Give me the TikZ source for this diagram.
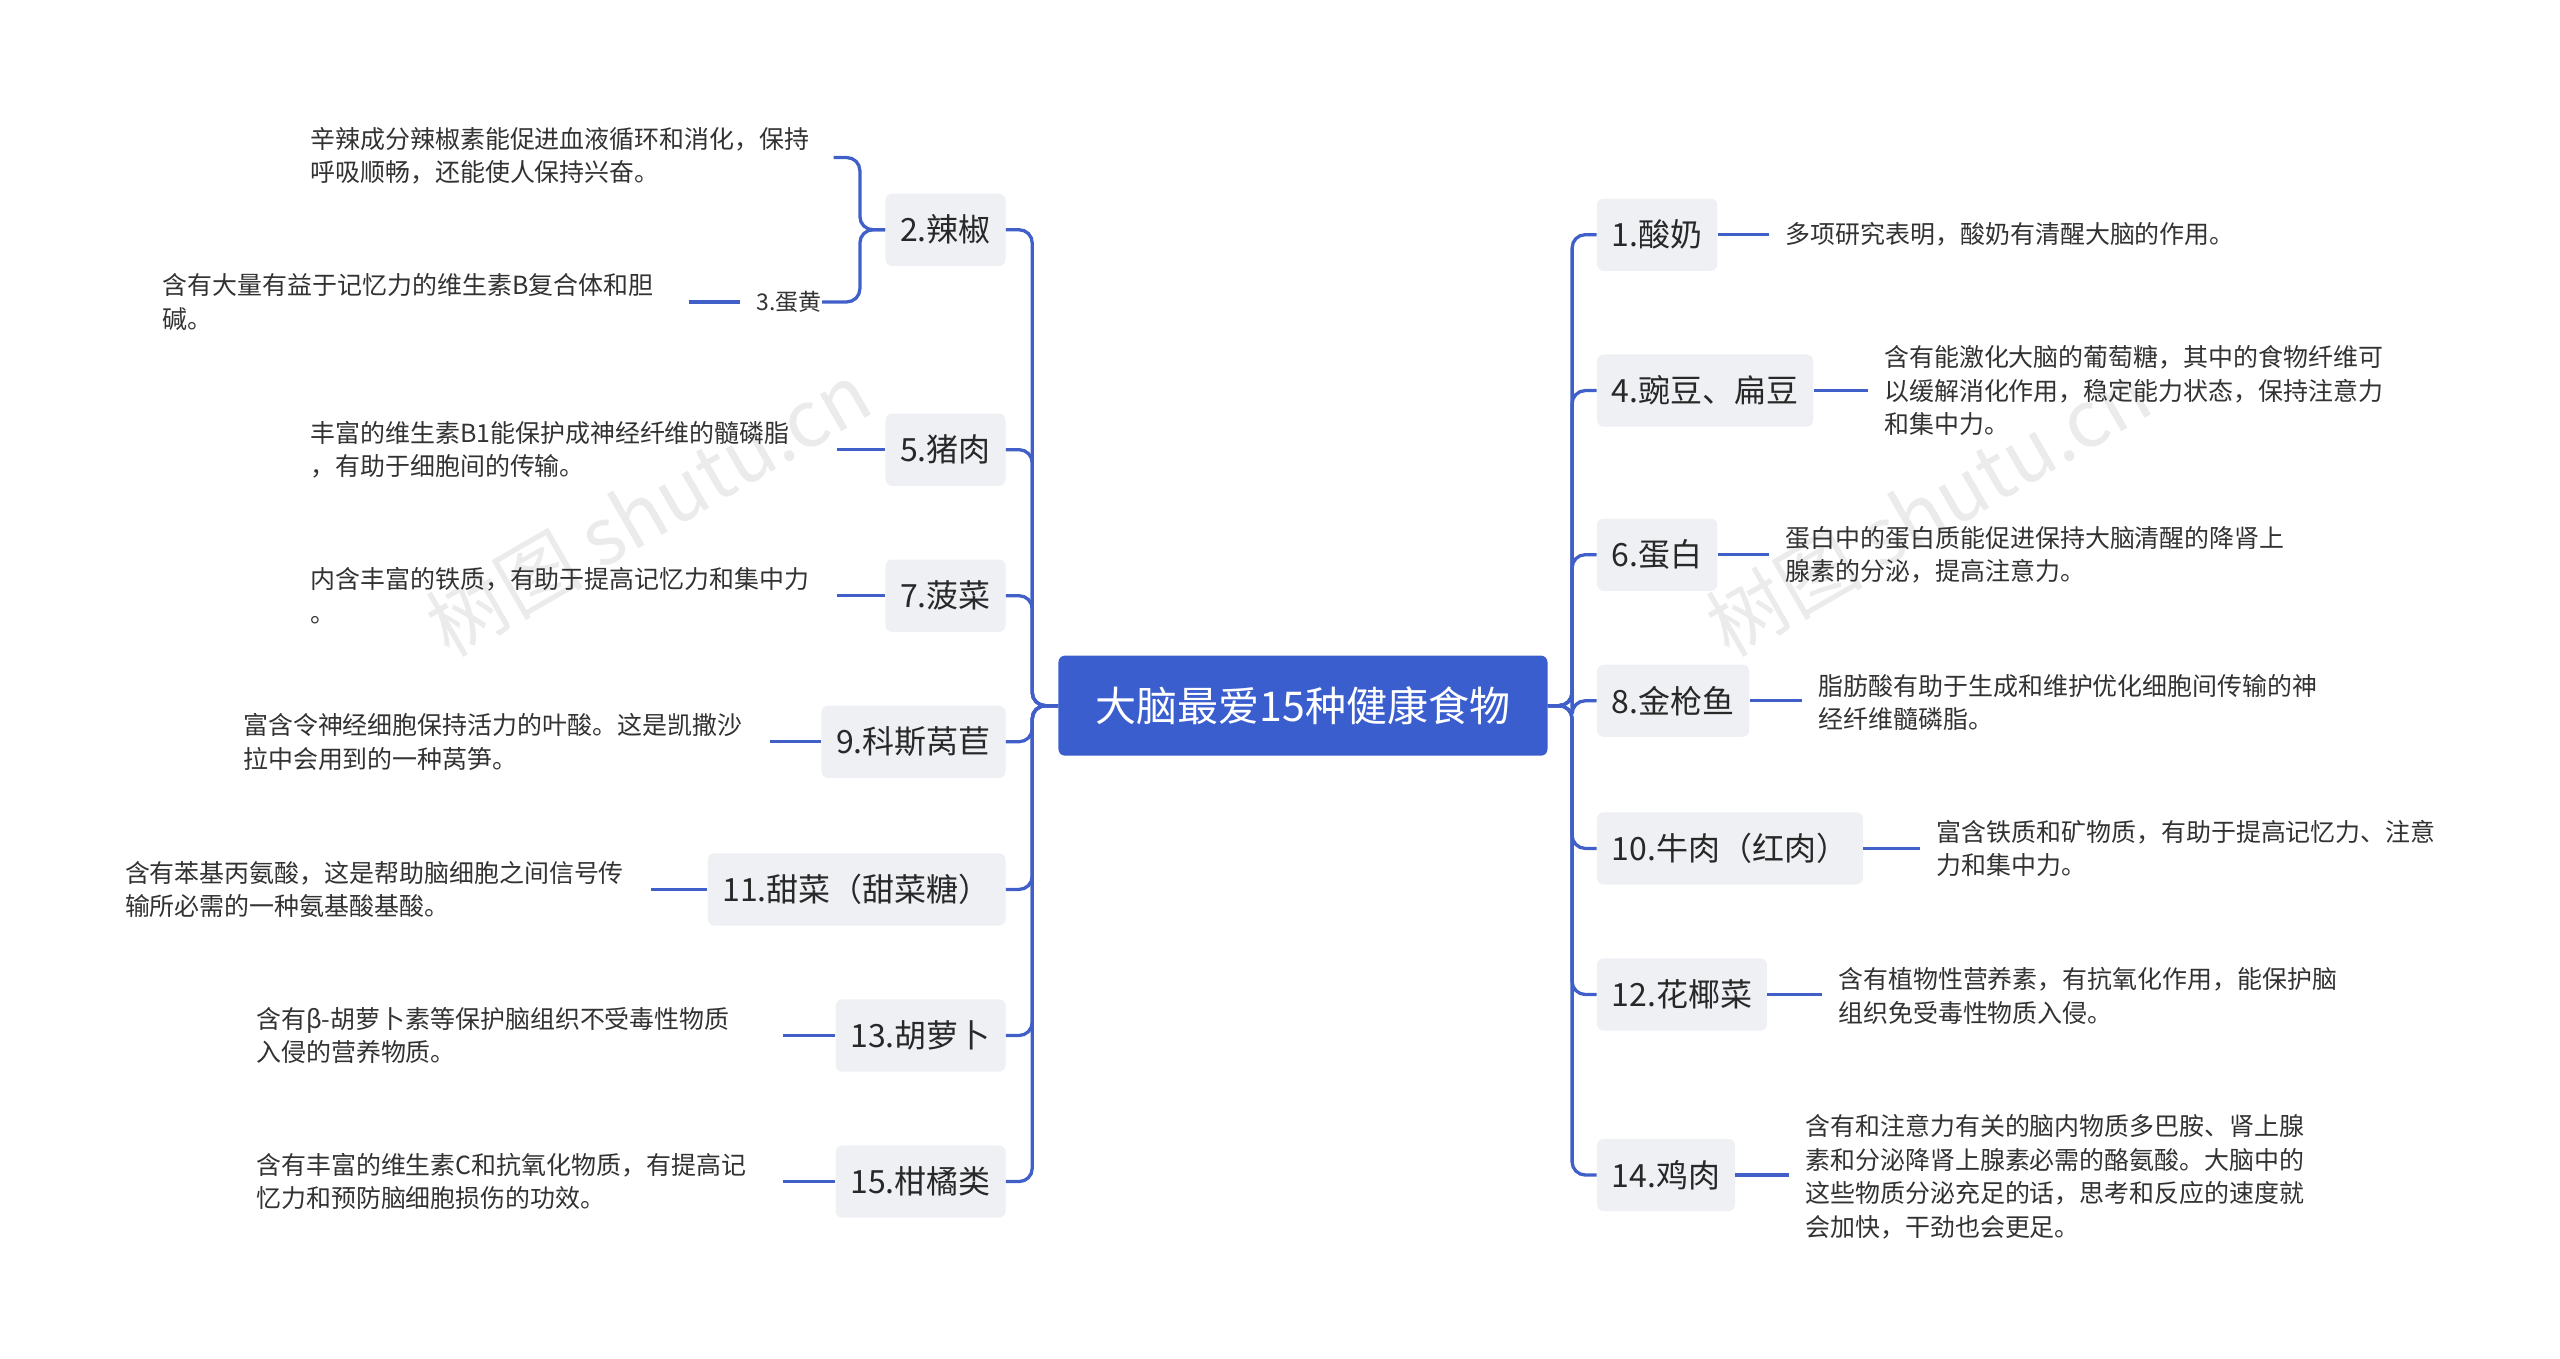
\documentclass[tikz,border=0pt]{standalone}
\usepackage{fontspec}
\setmainfont{Noto Sans CJK SC}
\begin{document}
\begin{tikzpicture}[x=1pt,y=-1pt,
  ln/.style={line width=2pt, color={rgb,255:red,64;green,95;blue,200}},
  br/.style={fill={rgb,255:red,238;green,240;blue,244}, rounded corners=4pt, minimum height=44pt, inner xsep=9pt, font=\fontsize{19.5}{22}\selectfont, text={rgb,255:red,40;green,40;blue,40}},
  lf/.style={align=left, anchor=west, inner sep=0pt, font=\fontsize{15.2}{20.5}\selectfont, text={rgb,255:red,50;green,50;blue,50}},
  rc/.style={ln, rounded corners=8pt}]
\useasboundingbox (0,0) rectangle (1560,828);
\node[rotate=30, text=black!8, font=\fontsize{48}{48}\selectfont] (w1) at (395,310) {树图 shutu.cn};
\node[rotate=30, text=black!8, font=\fontsize{48}{48}\selectfont] (w2) at (1175,310) {树图 shutu.cn};
\node[fill={rgb,255:red,59;green,94;blue,206}, rounded corners=4pt, minimum width=298pt, minimum height=61pt, text=white, font=\fontsize{25}{28}\selectfont] (root) at (794,430) {大脑最爱15种健康食物};
% left branches
\node[br, anchor=east] (n2) at (613,140) {2.辣椒};
\node[br, anchor=east] (n5) at (613,274) {5.猪肉};
\node[br, anchor=east] (n7) at (613,363) {7.菠菜};
\node[br, anchor=east] (n9) at (613,452) {9.科斯莴苣};
\node[br, anchor=east] (n11) at (613,542) {11.甜菜（甜菜糖）};
\node[br, anchor=east] (n13) at (613,631) {13.胡萝卜};
\node[br, anchor=east] (n15) at (613,720) {15.柑橘类};
\foreach \n in {n2,n5,n7,n9,n11,n13,n15}{\draw[rc] (root.west) -- (629,430) |- (\n.east);}
% right branches
\node[br, anchor=west] (n1) at (973,143) {1.酸奶};
\node[br, anchor=west] (n4) at (973,238) {4.豌豆、扁豆};
\node[br, anchor=west] (n6) at (973,338) {6.蛋白};
\node[br, anchor=west] (n8) at (973,427) {8.金枪鱼};
\node[br, anchor=west] (n10) at (973,517) {10.牛肉（红肉）};
\node[br, anchor=west] (n12) at (973,606) {12.花椰菜};
\node[br, anchor=west] (n14) at (973,716) {14.鸡肉};
\foreach \n in {n1,n4,n6,n8,n10,n12,n14}{\draw[rc] (root.east) -- (958,430) |- (\n.west);}
% left leaves
\node[lf] (t2a) at (189,95) {辛辣成分辣椒素能促进血液循环和消化，保持\\呼吸顺畅，还能使人保持兴奋。};
\node[lf, font=\fontsize{14}{16}\selectfont, anchor=east] (t3) at (501,184) {3.蛋黄};
\node[lf] (t3a) at (99,184) {含有大量有益于记忆力的维生素B复合体和胆\\碱。};
\draw[rc] (n2.west) -- (524,140) |- (508,96);
\draw[rc] (n2.west) -- (524,140) |- (t3.east);
\draw[ln] (t3.west) ++(-10,0) -- (420,184);
\node[lf] (t5) at (189,274) {丰富的维生素B1能保护成神经纤维的髓磷脂\\，有助于细胞间的传输。};
\draw[ln] (n5.west) -- (510,274);
\node[lf] (t7) at (189,363) {内含丰富的铁质，有助于提高记忆力和集中力\\。};
\draw[ln] (n7.west) -- (510,363);
\node[lf] (t9) at (148,452) {富含令神经细胞保持活力的叶酸。这是凯撒沙\\拉中会用到的一种莴笋。};
\draw[ln] (n9.west) -- (469,452);
\node[lf] (t11) at (76,542) {含有苯基丙氨酸，这是帮助脑细胞之间信号传\\输所必需的一种氨基酸基酸。};
\draw[ln] (n11.west) -- (397,542);
\node[lf] (t13) at (156,631) {含有β-胡萝卜素等保护脑组织不受毒性物质\\入侵的营养物质。};
\draw[ln] (n13.west) -- (477,631);
\node[lf] (t15) at (156,720) {含有丰富的维生素C和抗氧化物质，有提高记\\忆力和预防脑细胞损伤的功效。};
\draw[ln] (n15.west) -- (477,720);
% right leaves
\node[lf] (t1) at (1088,143) {多项研究表明，酸奶有清醒大脑的作用。};
\draw[ln] (n1.east) -- (1078,143);
\node[lf] (t4) at (1148,238) {含有能激化大脑的葡萄糖，其中的食物纤维可\\以缓解消化作用，稳定能力状态，保持注意力\\和集中力。};
\draw[ln] (n4.east) -- (1138,238);
\node[lf] (t6) at (1088,338) {蛋白中的蛋白质能促进保持大脑清醒的降肾上\\腺素的分泌，提高注意力。};
\draw[ln] (n6.east) -- (1078,338);
\node[lf] (t8) at (1108,428) {脂肪酸有助于生成和维护优化细胞间传输的神\\经纤维髓磷脂。};
\draw[ln] (n8.east) -- (1098,427);
\node[lf] (t10) at (1180,517) {富含铁质和矿物质，有助于提高记忆力、注意\\力和集中力。};
\draw[ln] (n10.east) -- (1170,517);
\node[lf] (t12) at (1120,607) {含有植物性营养素，有抗氧化作用，能保护脑\\组织免受毒性物质入侵。};
\draw[ln] (n12.east) -- (1110,606);
\node[lf] (t14) at (1100,717) {含有和注意力有关的脑内物质多巴胺、肾上腺\\素和分泌降肾上腺素必需的酪氨酸。大脑中的\\这些物质分泌充足的话，思考和反应的速度就\\会加快，干劲也会更足。};
\draw[ln] (n14.east) -- (1090,716);
\end{tikzpicture}
\end{document}
